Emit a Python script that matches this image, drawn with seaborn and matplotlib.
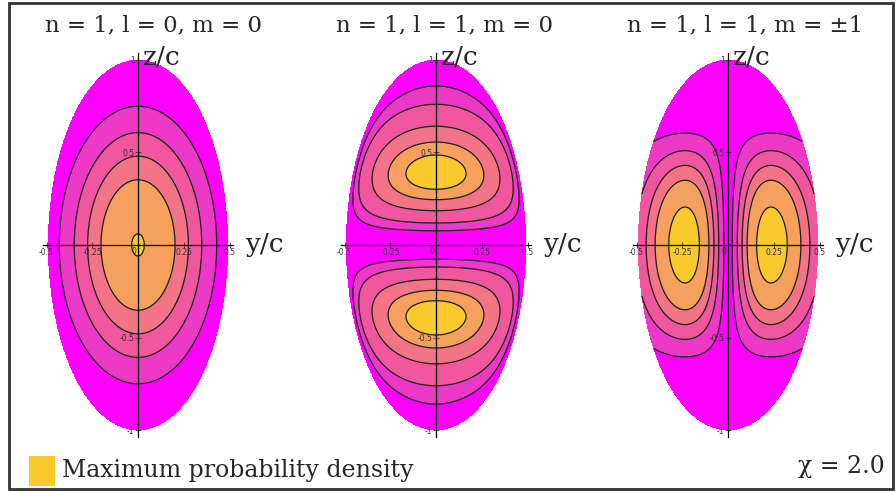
import numpy as np
import matplotlib
matplotlib.use("Agg")
import matplotlib.pyplot as plt
import seaborn as sns
from matplotlib.patches import Rectangle

# ---------------- data ----------------
titles = ["n = 1, l = 0, m = 0", "n = 1, l = 1, m = 0", "n = 1, l = 1, m = \u00b11"]
band_colors = ["#FF00FF", "#EC3AC6", "#F0579F", "#F27486", "#F5A05C", "#F9C92E"]
# contour levels (fraction of the maximum density) for each panel
levels_p1 = [0.0, 0.19, 0.36, 0.53, 0.92]
levels_p2 = [0.32, 0.48, 0.70, 0.85, 0.945]
levels_p3 = [0.304, 0.505, 0.648, 0.767, 0.92]
# shape parameters of the density lobes
p1_widths = [0.43, 0.75]            # elliptic radius scales (y, z)
p2_peak_z, p2_exp_z, p2_exp_y = 0.39, 1.0, 0.40
p3_peak_y, p3_exp_y, p3_width_z = 0.235, 0.65, 0.725
domain_axes = [0.49, 1.0]           # semi-axes of the spheroidal box (y/c, z/c)
y_ticks = [-0.5, -0.25, 0.25, 0.5]
y_tick_labels = ["-0.5", "-0.25", "0.25", "0.5"]
z_ticks = [-1, -0.5, 0.5, 1]
z_tick_labels = ["-1", "-0.5", "0.5", "1"]
chi_label = "\u03c7 = 2.0"
legend_label = "Maximum probability density"

# ---------------- style ----------------
sns.set_theme(style="white")
plt.rcParams["font.family"] = ["DejaVu Serif", "DejaVu Sans"]
palette = sns.color_palette(band_colors)

W, H = 896, 492
fig = plt.figure(figsize=(W / 100, H / 100), dpi=100)
fig.patch.set_facecolor("white")

a, b = domain_axes
yy = np.linspace(-a, a, 601)
zz = np.linspace(-b, b, 901)
Y, Z = np.meshgrid(yy, zz)
inside = (Y / a) ** 2 + (Z / b) ** 2 <= 1.0


def lobe(u, u0, p):
    return (np.abs(u) / u0) ** p * np.exp(-p * (u ** 2 - u0 ** 2) / (2 * u0 ** 2))


def field(k):
    if k == 0:
        r = np.sqrt((Y / p1_widths[0]) ** 2 + (Z / p1_widths[1]) ** 2)
        return 1.0 - r, levels_p1
    if k == 1:
        y_edge = a * np.sqrt(np.clip(1 - (Z / b) ** 2, 1e-9, None))
        h = np.clip(1 - (Y / y_edge) ** 2, 0, None) ** p2_exp_y
        return lobe(Z, p2_peak_z, p2_exp_z) * h, levels_p2
    h = np.clip(1 - (Z / p3_width_z) ** 2, 0, None)
    return lobe(Y, p3_peak_y, p3_exp_y) * h, levels_p3


sx, sy = 183.0, 185.0
centers_x = [138, 436, 728]
title_x = [153, 444, 745]
cy = 245
xl, zl = 0.62, 1.1

for k in range(3):
    cx = centers_x[k]
    ax = fig.add_axes([(cx - xl * sx) / W, (H - cy - zl * sy) / H,
                       2 * xl * sx / W, 2 * zl * sy / H])
    ax.patch.set_visible(False)
    ax.set_axisbelow(False)
    f, lev = field(k)
    fm = np.ma.masked_where(~inside, f)
    full_levels = [-10.0] + list(lev) + [10.0]
    ax.contourf(Y, Z, fm, levels=full_levels, colors=palette, zorder=1)
    ax.contour(Y, Z, fm, levels=lev, colors="#1a1a1a", linewidths=0.9, zorder=2)
    ax.set_xlim(-xl, xl)
    ax.set_ylim(-zl, zl)
    # cross-shaped axes through the origin
    for s in ["top", "right"]:
        ax.spines[s].set_visible(False)
    ax.spines["left"].set_position(("data", 0))
    ax.spines["bottom"].set_position(("data", 0))
    ax.spines["left"].set_bounds(-1.04, 1.04)
    ax.spines["bottom"].set_bounds(-0.52, 0.52)
    for s in ["left", "bottom"]:
        ax.spines[s].set_color("black")
        ax.spines[s].set_linewidth(0.9)
        ax.spines[s].set_zorder(3)
    ax.set_xticks(y_ticks)
    ax.set_xticklabels(y_tick_labels)
    ax.set_yticks(z_ticks)
    ax.set_yticklabels(z_tick_labels)
    ax.tick_params(axis="both", direction="inout", length=4, width=0.6,
                   labelsize=5.5, pad=0.5, colors="#333333",
                   bottom=True, left=True)
    for lab in ax.get_xticklabels() + ax.get_yticklabels():
        lab.set_family("DejaVu Sans")
    ax.annotate("0", (0, 0), xytext=(-1, -1.5), textcoords="offset points",
                ha="right", va="top", fontsize=5.5, color="#333333",
                family="DejaVu Sans", zorder=4)
    ax.text(0.025, 0.975, "z/c", fontsize=19, ha="left", va="baseline")
    ax.text(0.585, -0.04, "y/c", fontsize=19, ha="left", va="baseline")
    fig.text(title_x[k] / W, 1 - 31 / H, titles[k], fontsize=16.5,
             ha="center", va="baseline")

# legend swatch and labels
fig.patches.append(Rectangle((29 / W, 1 - 486 / H), 26 / W, 30 / H,
                             transform=fig.transFigure, facecolor=band_colors[-1],
                             edgecolor="none"))
fig.text(62 / W, 1 - 470 / H, legend_label, fontsize=17, ha="left", va="center")
fig.text(885 / W, 1 - 466 / H, chi_label, fontsize=17, ha="right", va="center")

# outer frame
fig.patches.append(Rectangle((9 / W, 1 - 489 / H), 884 / W, 486 / H,
                             transform=fig.transFigure, facecolor="none",
                             edgecolor="#333333", linewidth=2))

fig.savefig("out.png", dpi=100)
